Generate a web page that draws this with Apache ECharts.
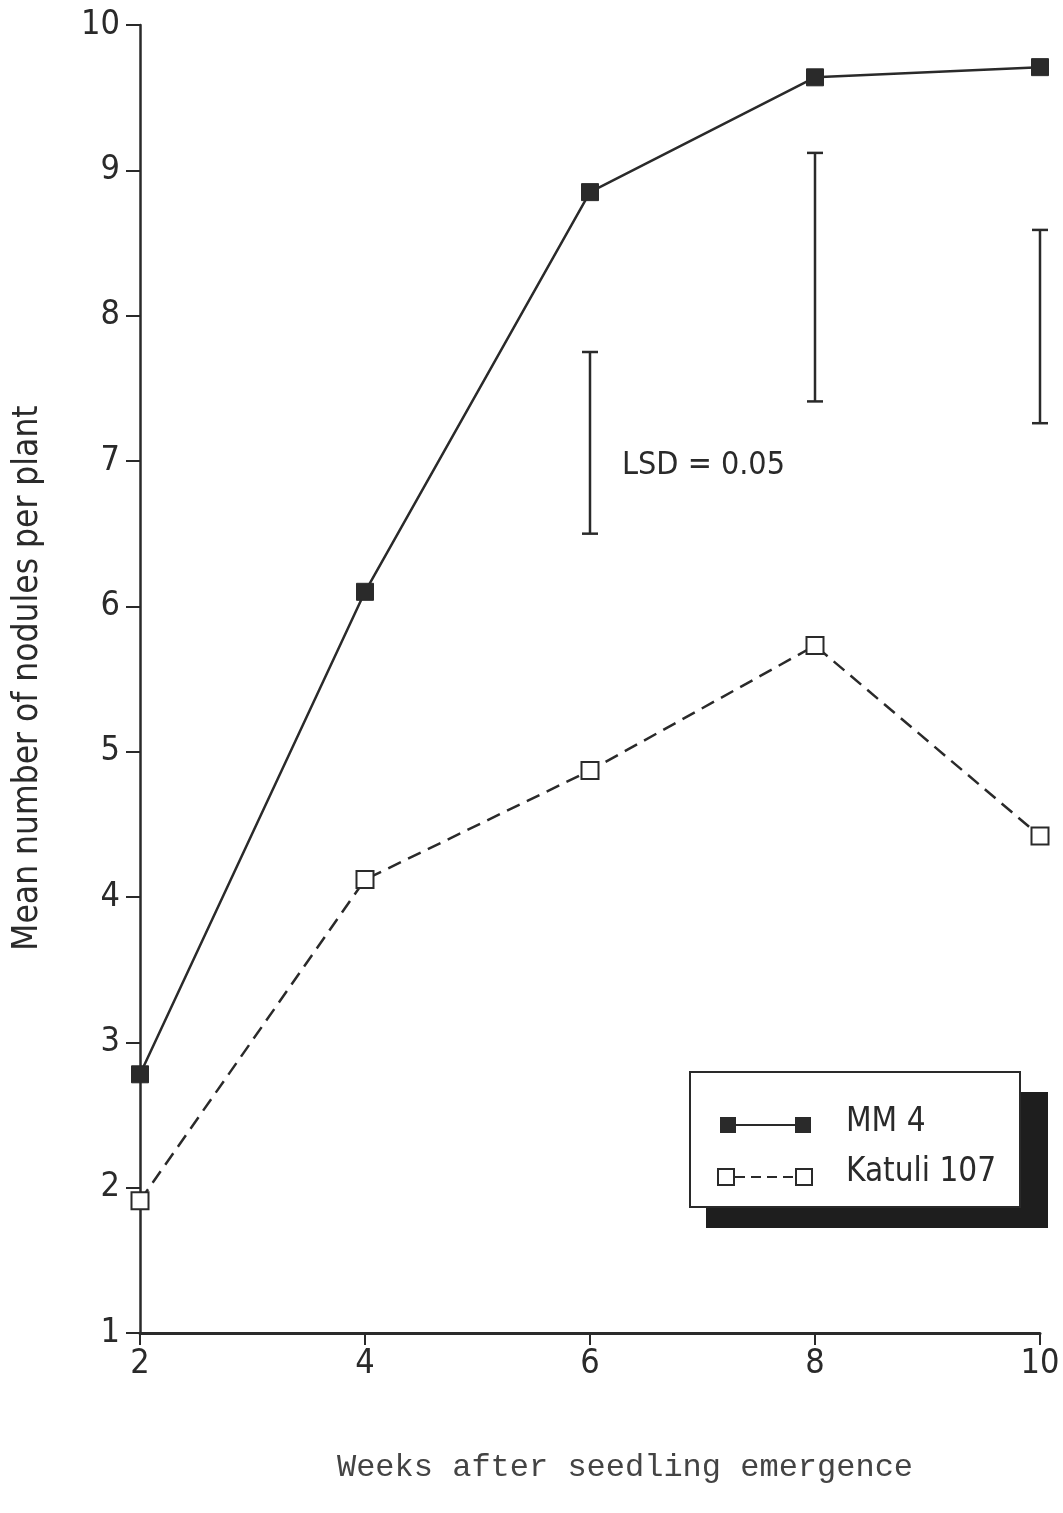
<!DOCTYPE html>
<html><head><meta charset="utf-8">
<script src="https://cdn.jsdelivr.net/npm/echarts@6/dist/echarts.min.js"></script>
<style>html,body{margin:0;padding:0;background:#fff}#c{width:1063px;height:1513px}</style>
</head><body><div id="c"></div>
<script>
const weeks = [2, 4, 6, 8, 10];
const mm4 = [2.78, 6.1, 8.85, 9.64, 9.71];
const katuli = [1.91, 4.12, 4.87, 5.73, 4.42];
const lsdWeeks = [6, 8, 10];
const lsdLow = [6.5, 7.41, 7.26];
const lsdHigh = [7.75, 9.12, 8.59];
const yTicks = [1, 2, 3, 4, 5, 6, 7, 8, 9, 10];
const xTicks = [2, 4, 6, 8, 10];

const ink = '#2a2a2a';
const chart = echarts.init(document.getElementById('c'));
const font = '"DejaVu Sans Condensed", "DejaVu Sans", sans-serif';
chart.setOption({
  animation: false,
  backgroundColor: '#fff',
  grid: {left: 140, right: 23, top: 25, bottom: 180},
  xAxis: {
    type: 'value', min: 2, max: 10, interval: 2,
    axisLine: {lineStyle: {color: ink, width: 3}},
    axisTick: {show: true, length: 12, lineStyle: {color: ink, width: 2}},
    axisLabel: {color: ink, fontSize: 34, fontFamily: font, margin: 14,
      formatter: v => xTicks.includes(v) ? String(v) : ''},
    splitLine: {show: false}
  },
  yAxis: {
    type: 'value', min: 1, max: 10, interval: 1,
    axisLine: {show: true, lineStyle: {color: ink, width: 2.5}},
    axisTick: {show: true, length: 14, lineStyle: {color: ink, width: 2}},
    axisLabel: {color: ink, fontSize: 34, fontFamily: font, margin: 20,
      formatter: v => yTicks.includes(v) ? String(v) : ''},
    splitLine: {show: false}
  },
  series: [
    {
      name: 'MM 4', type: 'line',
      data: weeks.map((w, i) => [w, mm4[i]]),
      symbol: 'rect', symbolSize: 17,
      itemStyle: {color: ink, borderColor: ink},
      lineStyle: {color: ink, width: 2.5},
      z: 3
    },
    {
      name: 'Katuli 107', type: 'line',
      data: weeks.map((w, i) => [w, katuli[i]]),
      symbol: 'rect', symbolSize: 17,
      itemStyle: {color: '#fff', borderColor: ink, borderWidth: 2},
      lineStyle: {color: ink, width: 2.5, type: [14, 8]},
      z: 3
    },
    {
      type: 'custom',
      data: lsdWeeks.map((w, i) => [w, lsdLow[i], lsdHigh[i]]),
      renderItem: (params, api) => {
        const lo = api.coord([api.value(0), api.value(1)]);
        const hi = api.coord([api.value(0), api.value(2)]);
        const hw = 8;
        const st = {stroke: ink, lineWidth: 2.5, fill: null};
        return {type: 'group', children: [
          {type: 'line', shape: {x1: lo[0], y1: lo[1], x2: hi[0], y2: hi[1]}, style: st},
          {type: 'line', shape: {x1: lo[0]-hw, y1: lo[1], x2: lo[0]+hw, y2: lo[1]}, style: st},
          {type: 'line', shape: {x1: hi[0]-hw, y1: hi[1], x2: hi[0]+hw, y2: hi[1]}, style: st}
        ]};
      },
      z: 2
    }
  ],
  graphic: [
    {type: 'text', left: 622, top: 450, style: {text: 'LSD = 0.05', fill: ink, font: '32px ' + font}},
    {type: 'text', x: 28, y: 678, rotation: Math.PI/2, originX: 0, originY: 0,
      style: {text: 'Mean number of nodules per plant', fill: ink, font: '35px ' + font,
        textAlign: 'center', textVerticalAlign: 'middle'}},
    {type: 'text', x: 625, y: 1468,
      style: {text: 'Weeks after seedling emergence', fill: '#444', font: '32px "Liberation Mono", monospace',
        textAlign: 'center', textVerticalAlign: 'middle'}},
    // legend shadow and box
    {type: 'rect', shape: {x: 706, y: 1092, width: 342, height: 136}, style: {fill: '#1e1e1e'}, z: 10},
    {type: 'rect', shape: {x: 690, y: 1072, width: 330, height: 135}, style: {fill: '#fff', stroke: ink, lineWidth: 2}, z: 11},
    {type: 'rect', shape: {x: 720, y: 1117, width: 16, height: 16}, style: {fill: ink}, z: 12},
    {type: 'rect', shape: {x: 795, y: 1117, width: 16, height: 16}, style: {fill: ink}, z: 12},
    {type: 'line', shape: {x1: 736, y1: 1125, x2: 795, y2: 1125}, style: {stroke: ink, lineWidth: 2}, z: 12},
    {type: 'rect', shape: {x: 718, y: 1169, width: 16, height: 16}, style: {fill: '#fff', stroke: ink, lineWidth: 2}, z: 12},
    {type: 'rect', shape: {x: 796, y: 1169, width: 16, height: 16}, style: {fill: '#fff', stroke: ink, lineWidth: 2}, z: 12},
    {type: 'line', shape: {x1: 735, y1: 1177, x2: 796, y2: 1177}, style: {stroke: ink, lineWidth: 2, lineDash: [10, 6]}, z: 12},
    {type: 'text', left: 846, top: 1106, style: {text: 'MM 4', fill: ink, font: '33px ' + font}, z: 12},
    {type: 'text', left: 846, top: 1156, style: {text: 'Katuli 107', fill: ink, font: '33px ' + font}, z: 12}
  ]
});
</script></body></html>
